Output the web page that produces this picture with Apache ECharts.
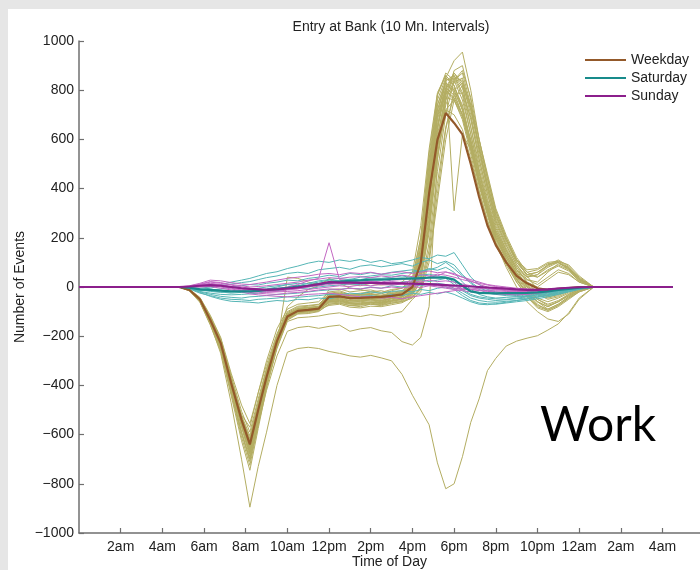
<!DOCTYPE html>
<html>
<head>
<meta charset="utf-8">
<script src="https://cdn.jsdelivr.net/npm/echarts@6/dist/echarts.min.js"></script>
<style>
  html, body { margin: 0; padding: 0; width: 700px; height: 570px; background: #e6e6e6; overflow: hidden; }
  #chart { position: absolute; left: 8px; top: 9px; width: 692px; height: 561px; background: #fff; }
</style>
</head>
<body>
<div id="chart"></div>
<script>
const hours = [0, 4.8, 5.3, 5.8, 6.3, 6.8, 7.3, 7.8, 8.2, 8.6, 9.0, 9.5, 10.0, 10.5, 11.0, 11.5, 12.0, 12.5, 13.0, 13.5, 14.0, 14.5, 15.0, 15.5, 16.0, 16.4, 16.8, 17.2, 17.6, 18.0, 18.4, 18.8, 19.2, 19.6, 20.0, 20.5, 21.0, 21.5, 22.0, 22.5, 23.0, 23.5, 24.0, 24.7, 28.5];

const xTickValues = [2, 4, 6, 8, 10, 12, 14, 16, 18, 20, 22, 24, 26, 28];
const xTickLabels = ["2am", "4am", "6am", "8am", "10am", "12pm", "2pm", "4pm", "6pm", "8pm", "10pm", "12am", "2am", "4am"];

const weekdayRuns = [
  [0,0,-10,-48,-130,-225,-385,-535,-635,-495,-360,-215,-118,-95,-90,-84,-55,-50,-62,-58,-52,-60,-48,-42,-15,70,360,620,770,760,690,560,420,300,200,120,50,10,-20,-35,-25,-10,0,0,0],
  [0,0,-8,-55,-140,-240,-400,-520,-570,-430,-300,-170,-90,-70,-65,-60,-20,-15,-30,-25,-20,-28,-15,-5,40,200,520,760,850,820,720,580,430,320,220,140,70,30,20,60,95,80,30,0,0],
  [0,0,-15,-60,-150,-255,-430,-610,-725,-560,-400,-245,-135,-110,-108,-100,-70,-65,-75,-80,-70,-72,-66,-60,-45,-10,150,420,650,780,790,690,520,380,250,150,70,0,-50,-70,-55,-30,-10,0,0],
  [0,0,-12,-45,-120,-210,-365,-525,-650,-520,-380,-230,-125,-100,-95,-92,-60,-58,-66,-70,-64,-62,-55,-50,-35,30,220,520,760,880,900,760,560,400,270,170,90,40,50,90,110,85,40,0,0],
  [0,0,-10,-52,-138,-232,-395,-548,-660,-510,-372,-225,-122,-98,-92,-86,-35,-30,-40,-38,-36,-45,-30,-20,10,130,420,700,840,850,780,620,470,330,220,130,60,5,-30,-45,-35,-15,-5,0,0],
  [0,0,-14,-56,-145,-245,-410,-570,-690,-540,-395,-240,40,35,20,10,30,15,-5,-10,-20,-15,-25,-30,-10,90,380,640,800,870,820,650,480,350,230,140,60,-10,-60,-80,-60,-35,-15,0,0],
  [0,0,-11,-50,-132,-226,-388,-538,-628,-488,-352,-212,-115,-90,-88,-80,-45,-40,-48,-50,-46,-50,-40,-35,-20,60,300,580,720,700,640,520,390,270,180,100,30,-20,-60,-90,-70,-40,-15,0,0],
  [0,0,-9,-42,-115,-205,-350,-480,-555,-430,-315,-190,-100,-78,-75,-70,-30,-28,-36,-32,-30,-34,-28,-25,5,110,400,680,800,770,700,600,460,340,230,150,80,40,50,80,100,70,25,0,0],
  [0,0,-12,-50,-135,-230,-392,-545,-645,-505,-368,-222,-120,-96,-92,-88,-42,-40,-50,-46,-44,-48,-40,-32,0,150,480,780,860,310,620,560,430,320,210,130,50,0,-30,-50,-40,-20,-5,0,0],
  [0,0,-13,-57,-148,-248,-420,-590,-700,-545,-390,-235,-128,-105,-100,-95,-60,-55,-65,-68,-62,-66,-58,-50,-30,20,250,560,760,840,870,740,560,410,280,180,100,50,60,85,105,90,45,0,0],
  [0,0,-10,-46,-126,-218,-375,-528,-620,-480,-345,-205,-108,-86,-82,-78,-25,-20,-32,-30,-26,-34,-22,-15,20,160,460,720,820,800,720,580,440,310,200,120,40,-15,-50,-75,-60,-30,-10,0,0],
  [0,0,-16,-62,-155,-262,-440,-625,-745,-575,-410,-250,-140,-125,-122,-118,-110,-105,-115,-120,-112,-118,-108,-100,-50,-20,100,350,600,760,820,720,560,420,290,190,110,60,70,95,100,75,30,0,0],
  [0,0,-11,-49,-131,-224,-384,-535,-640,-498,-362,-218,-117,-94,-90,-84,-48,-44,-55,-52,-50,-55,-46,-38,-5,90,390,660,790,810,740,590,440,310,200,110,35,-25,-70,-95,-75,-45,-20,0,0],
  [0,0,-13,-56,-146,-245,-420,-590,-700,-560,-420,-280,-180,-165,-160,-168,-160,-155,-180,-170,-165,-178,-185,-222,-236,-205,-80,520,720,760,700,560,420,300,180,80,0,-60,-100,-130,-140,-110,-50,0,0],
  [0,0,-14,-58,-150,-270,-470,-700,-895,-730,-590,-400,-265,-250,-245,-250,-262,-270,-280,-285,-278,-288,-300,-355,-440,-500,-560,-715,-820,-800,-690,-550,-455,-340,-290,-240,-220,-208,-198,-175,-150,-105,-45,0,0],
  [0,0,-12,-53,-140,-236,-402,-556,-670,-525,-385,-232,-126,-102,-98,-90,-65,-62,-70,-72,-66,-70,-62,-55,-30,50,280,600,790,860,810,680,520,380,260,160,80,20,-20,-40,-30,-15,-5,0,0],
  [0,0,-9,-44,-120,-212,-360,-505,-590,-455,-330,-198,-104,-82,-78,-72,-28,-24,-34,-30,-28,-36,-26,-18,15,180,500,740,830,790,700,570,430,300,190,100,20,-40,-85,-100,-80,-50,-20,0,0],
  [0,0,-13,-55,-145,-242,-408,-565,-680,-530,-388,-236,-128,-104,-100,-94,-58,-55,-66,-64,-60,-64,-56,-48,-20,40,240,540,740,830,850,730,570,420,290,190,110,50,40,70,90,70,30,0,0],
  [0,0,-11,-51,-134,-228,-392,-543,-645,-505,-366,-220,-120,-96,-90,-86,-40,-36,-48,-44,-42,-46,-38,-30,0,120,410,690,810,780,700,560,410,290,180,100,30,-30,-75,-90,-70,-40,-15,0,0],
  [0,0,-12,-50,-136,-230,-394,-548,-655,-512,-374,-226,-122,-98,-94,-88,-50,-46,-56,-54,-50,-54,-45,-40,-15,60,320,640,850,920,955,800,600,440,300,190,100,50,60,90,100,75,35,0,0],
  [0,0,-10,-47,-128,-222,-380,-530,-615,-475,-342,-206,-110,-88,-84,-80,-30,-26,-38,-34,-30,-38,-28,-22,10,140,440,700,800,760,680,540,390,270,170,90,20,-35,-80,-95,-75,-45,-18,0,0],
  [0,0,-14,-58,-150,-252,-425,-595,-710,-555,-402,-244,-132,-108,-104,-98,-70,-66,-76,-74,-70,-76,-66,-58,-40,0,180,470,700,840,880,770,600,450,310,200,110,70,75,100,105,80,35,0,0],
  [0,0,-11,-48,-130,-225,-385,-535,-632,-492,-356,-214,-114,-90,-86,-82,-10,-8,-20,-15,-12,-22,-10,-5,25,200,540,780,870,840,760,620,470,330,220,130,55,5,-25,-40,-30,-15,-5,0,0],
  [0,0,-12,-52,-139,-234,-398,-552,-662,-518,-378,-228,-124,-100,-96,-90,-75,-70,-82,-85,-78,-80,-72,-64,-42,-5,120,380,640,800,830,740,600,460,320,210,120,60,40,65,85,65,25,0,0],
  [0,0,-10,-46,-124,-216,-372,-522,-605,-468,-336,-200,-80,-40,-10,5,35,20,10,5,15,8,12,20,60,250,560,790,860,820,730,590,440,310,200,110,30,-25,-60,-80,-60,-35,-10,0,0],
  [0,0,-11,-50,-133,-228,-390,-542,-648,-508,-370,-224,-121,-97,-93,-87,-52,-48,-58,-56,-52,-57,-47,-40,-10,100,430,720,830,800,720,590,450,320,210,120,45,-10,-45,-60,-45,-25,-8,0,0],
  [0,0,-12,-54,-142,-238,-404,-560,-675,-528,-386,-234,-127,-103,-99,-92,-62,-58,-68,-66,-62,-68,-58,-50,-25,70,340,650,810,870,830,700,540,400,270,170,90,30,10,40,70,55,20,0,0],
  [0,0,-10,-47,-127,-220,-378,-530,-625,-485,-350,-210,-112,-90,-86,-80,-38,-34,-44,-42,-40,-44,-35,-28,5,160,470,740,840,860,790,650,500,360,240,150,70,20,0,30,60,50,20,0,0],
  [0,0,-13,-55,-144,-240,-406,-562,-672,-524,-382,-232,-126,-101,-96,-90,-56,-52,-62,-60,-56,-62,-52,-46,-25,40,260,570,780,850,840,720,580,440,310,200,110,45,-10,-30,-20,-10,-3,0,0]
];

const saturdayRuns = [
  [0,0,0,-5,0,10,20,28,35,45,55,62,75,85,97,105,100,110,104,112,100,108,95,100,110,120,115,130,125,140,90,40,10,-10,-20,-25,-30,-28,-25,-20,-15,-10,-5,0,0],
  [0,0,-3,-10,-5,5,12,18,22,30,38,45,55,60,55,70,75,80,72,85,90,82,88,95,85,100,110,95,105,90,50,20,-5,-15,-25,-30,-35,-30,-28,-22,-18,-10,-5,0,0],
  [0,0,-5,-15,-12,-8,0,5,10,8,15,20,28,25,35,40,48,42,55,50,58,52,60,65,70,62,75,68,80,60,20,-10,-30,-40,-45,-42,-40,-38,-32,-25,-18,-10,-5,0,0],
  [0,0,-4,-12,-18,-22,-20,-15,-10,-5,0,5,10,15,12,20,28,25,32,30,38,35,40,45,38,48,52,45,40,20,-10,-30,-40,-45,-48,-50,-45,-40,-35,-28,-20,-12,-5,0,0],
  [0,0,-6,-18,-25,-30,-32,-30,-28,-25,-18,-15,-10,-5,-8,0,5,8,12,10,15,18,12,20,25,30,22,28,35,10,-15,-35,-45,-50,-55,-52,-48,-45,-40,-32,-25,-15,-8,0,0],
  [0,0,-5,-20,-30,-38,-42,-45,-40,-38,-35,-30,-28,-25,-20,-15,-12,-10,-5,-8,0,-5,5,0,8,5,12,15,10,-5,-25,-45,-55,-60,-62,-58,-55,-50,-42,-35,-28,-18,-8,0,0],
  [0,0,-8,-25,-35,-45,-50,-52,-55,-50,-48,-45,-40,-42,-38,-35,-30,-32,-25,-28,-20,-25,-18,-15,-20,-10,-15,-5,0,-10,-35,-55,-65,-68,-70,-65,-60,-55,-48,-40,-30,-20,-10,0,0],
  [0,0,-2,-8,-15,-20,-25,-22,-18,-12,-8,0,10,5,15,25,30,35,30,40,45,50,48,55,60,65,70,80,100,75,45,15,-10,-25,-30,-35,-38,-35,-30,-22,-15,-8,-3,0,0],
  [0,0,-6,-22,-38,-50,-58,-60,-62,-65,-60,-55,-58,-50,-52,-45,-48,-40,-45,-38,-35,-40,-30,-35,-25,-30,-22,-28,-20,-30,-45,-60,-70,-72,-68,-62,-55,-48,-40,-32,-22,-14,-6,0,0]
];

const sundayRuns = [
  [0,0,3,10,20,15,8,0,-5,-8,-10,-5,0,10,25,35,180,30,25,20,22,18,20,15,12,10,8,5,0,-5,-8,-10,-12,-15,-15,-18,-20,-18,-15,-12,-8,-4,-2,0,0],
  [0,0,5,15,28,25,18,12,10,15,20,28,35,40,45,52,55,50,58,55,60,52,58,62,55,60,65,58,62,50,40,30,20,10,5,0,-5,-8,-10,-8,-5,-3,-1,0,0],
  [0,0,4,12,22,18,10,5,0,2,5,10,15,20,28,32,38,35,40,42,38,45,40,48,42,50,45,52,48,40,30,22,15,8,2,-5,-10,-12,-14,-12,-8,-5,-2,0,0],
  [0,0,2,8,15,10,2,-5,-10,-12,-15,-12,-8,-5,0,5,10,15,12,18,20,15,22,18,25,20,28,22,25,20,12,5,0,-5,-10,-15,-18,-20,-18,-15,-10,-5,-2,0,0],
  [0,0,1,5,10,5,-5,-12,-18,-20,-22,-20,-18,-15,-10,-5,0,5,2,8,5,10,8,12,5,10,8,12,5,2,-5,-10,-15,-18,-20,-22,-25,-22,-20,-15,-10,-5,-2,0,0],
  [0,0,0,2,5,0,-8,-15,-22,-25,-28,-30,-25,-22,-18,-12,-8,-10,-5,-8,-2,-5,0,-4,2,-2,5,0,-5,-10,-15,-20,-22,-25,-28,-30,-32,-30,-25,-20,-12,-6,-2,0,0],
  [0,0,2,6,12,8,0,-8,-15,-18,-20,-18,-12,-8,0,8,15,12,20,15,25,20,28,30,35,28,40,45,60,55,40,25,10,0,-8,-12,-15,-18,-15,-12,-8,-4,-2,0,0],
  [0,0,0,0,2,-5,-12,-20,-28,-32,-35,-38,-40,-35,-30,-28,-25,-30,-35,-40,-38,-45,-42,-48,-40,-35,-30,-25,-20,-15,-10,-8,-5,-8,-10,-12,-15,-12,-10,-8,-5,-3,-1,0,0]
];

const weekdayMean = [0,0,-12,-50,-134,-228,-390,-540,-640,-500,-366,-220,-120,-97,-93,-88,-40,-38,-45,-44,-42,-40,-36,-30,0,97,380,598,707,667,620,500,366,250,170,100,45,15,-5,-12,-8,-4,0,0,0];
const saturdayMean = [0,0,-3,-10,-12,-15,-18,-18,-18,-16,-12,-8,-3,2,5,12,18,22,25,27,30,30,32,34,34,36,38,38,38,30,5,-18,-24,-25,-26,-25,-25,-24,-22,-18,-12,-8,-3,0,0];
const sundayMean = [0,0,2,5,8,5,0,-5,-8,-10,-12,-10,-6,-2,5,12,20,18,18,17,17,16,15,15,14,13,12,10,8,6,4,2,0,-2,-4,-7,-10,-12,-12,-10,-6,-3,-1,0,0];

const FONT = "Liberation Sans";
const AXIS_GRAY = "#6f6f6f";

function pairs(values) {
  return values.map((v, i) => [hours[i], v]);
}

function thinLine(values, color) {
  return {
    type: "line",
    data: pairs(values),
    symbol: "none",
    silent: true,
    lineStyle: { width: 1, color: color },
    z: 2
  };
}

function meanLine(name, values, color) {
  return {
    name: name,
    type: "line",
    data: pairs(values),
    symbol: "none",
    silent: true,
    lineStyle: { width: 2.2, color: color },
    itemStyle: { color: color },
    z: 3
  };
}

const series = [];
weekdayRuns.forEach(r => series.push(thinLine(r, "#b3ad62")));
saturdayRuns.forEach(r => series.push(thinLine(r, "#55b5b5")));
sundayRuns.forEach(r => series.push(thinLine(r, "#c267c2")));
series.push(meanLine("Weekday", weekdayMean, "#93592a"));
series.push(meanLine("Saturday", saturdayMean, "#188b8b"));
series.push(meanLine("Sunday", sundayMean, "#8c1f8c"));

let chart = echarts.init(document.getElementById("chart"));
chart.setOption({
  animation: false,
  textStyle: { fontFamily: FONT },
  title: {
    text: "Entry at Bank (10 Mn. Intervals)",
    left: 383,
    top: 11,
    textAlign: "center",
    padding: 0,
    textStyle: { fontFamily: FONT, fontSize: 14, fontWeight: "normal", color: "#222" }
  },
  legend: {
    orient: "vertical",
    left: 577,
    top: 44,
    padding: 0,
    itemGap: 4,
    itemWidth: 41,
    itemHeight: 2,
    icon: "rect",
    selectedMode: false,
    data: ["Weekday", "Saturday", "Sunday"],
    textStyle: { fontFamily: FONT, fontSize: 14, color: "#222" }
  },
  grid: {
    left: 71,
    top: 32,
    right: 0,
    bottom: 37,
    containLabel: false,
    outerBoundsMode: "none"
  },
  xAxis: {
    type: "value",
    min: 0,
    max: 29.8,
    name: "Time of Day",
    nameLocation: "middle",
    nameGap: 22,
    nameMoveOverlap: false,
    nameTextStyle: { fontFamily: FONT, fontSize: 14, color: "#222" },
    axisLine: { onZero: false, lineStyle: { color: AXIS_GRAY, width: 1.5 } },
    axisTick: { inside: true, length: 5, customValues: xTickValues, lineStyle: { color: AXIS_GRAY, width: 1.2 } },
    axisLabel: {
      customValues: xTickValues,
      margin: 7,
      fontFamily: FONT,
      fontSize: 14,
      color: "#222",
      formatter: v => {
        const i = xTickValues.indexOf(v);
        return i >= 0 ? xTickLabels[i] : "";
      }
    },
    splitLine: { show: false }
  },
  yAxis: {
    type: "value",
    min: -1000,
    max: 1000,
    interval: 200,
    name: "Number of Events",
    nameLocation: "middle",
    nameGap: 52,
    nameMoveOverlap: false,
    nameTextStyle: { fontFamily: FONT, fontSize: 14, color: "#222" },
    axisLine: { show: true, onZero: false, lineStyle: { color: AXIS_GRAY, width: 1.5 } },
    axisTick: { show: true, inside: true, length: 5, lineStyle: { color: AXIS_GRAY, width: 1.2 } },
    axisLabel: {
      margin: 5,
      fontFamily: FONT,
      fontSize: 14,
      color: "#222",
      formatter: v => (v < 0 ? "\u2212" + Math.abs(v) : String(v))
    },
    splitLine: { show: false }
  },
  graphic: [
    {
      type: "text",
      left: 532,
      top: 393,
      z: 10,
      style: { text: "Work", font: "48px Lato", fill: "#000" }
    }
  ],
  series: series
});
</script>
</body>
</html>
